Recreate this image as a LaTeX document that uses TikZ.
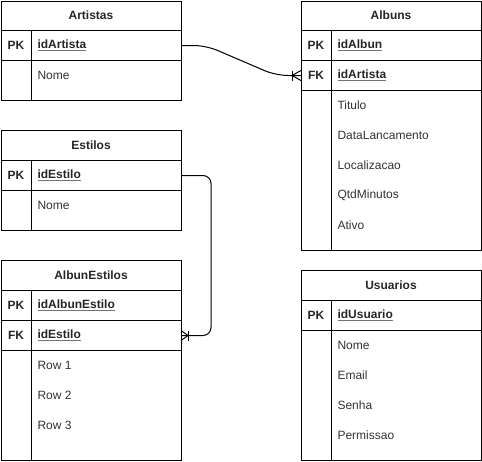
\documentclass[tikz,border=0pt]{standalone}
\usepackage{fontspec}
\setmainfont{Liberation Sans}
\usetikzlibrary{calc}
% key field names: dark text with a light grey underline
\newcommand{\keyname}[1]{{\color{black!55}\underline{\color{black!85}#1}}}
\begin{document}
\begin{tikzpicture}[x=1pt,y=-1pt,line width=1pt,
  tbl/.style={draw,minimum width=180pt,anchor=north west,inner sep=0pt,outer sep=0pt},
  hdr/.style={inner sep=0pt,text=black!85,font=\bfseries\fontsize{12}{14}\selectfont},
  keycell/.style={inner sep=0pt,text=black!85,font=\bfseries\fontsize{12}{14}\selectfont},
  fld/.style={anchor=west,inner sep=0pt,text=black!80,font=\fontsize{12}{14}\selectfont},
  keyfld/.style={anchor=west,inner sep=0pt,font=\bfseries\fontsize{12}{14}\selectfont},
  rel/.style={draw,line width=1pt,rounded corners=12pt}
]
\useasboundingbox (0,0) rectangle (482,461);

% ---------- Artistas ----------
\node[tbl,minimum height=99pt] (artistas) at (1,1) {};
\draw (1,30) -- (181,30) (1,60) -- (181,60) (31,30) -- (31,100);
\node[hdr] (artistas-h) at (91,15.5) {Artistas};
\node[keycell] (ar-pk) at (16,45.5) {PK};
\node[keyfld] (ar-id) at (37,45.5) {\keyname{idArtista}};
\node[fld] (ar-nome) at (37,75.5) {Nome};

% ---------- Estilos ----------
\node[tbl,minimum height=100pt] (estilos) at (1,130) {};
\draw (1,160) -- (181,160) (1,190) -- (181,190) (31,160) -- (31,230);
\node[hdr] (estilos-h) at (91,145.5) {Estilos};
\node[keycell] (es-pk) at (16,175.5) {PK};
\node[keyfld] (es-id) at (37,175.5) {\keyname{idEstilo}};
\node[fld] (es-nome) at (37,205.5) {Nome};

% ---------- AlbunEstilos ----------
\node[tbl,minimum height=200pt] (albunestilos) at (1,260) {};
\draw (1,290) -- (181,290) (1,320) -- (181,320) (1,350) -- (181,350) (31,290) -- (31,460);
\node[hdr] (ae-h) at (91,275.5) {AlbunEstilos};
\node[keycell] (ae-pk) at (16,305.5) {PK};
\node[keyfld] (ae-id) at (37,305.5) {\keyname{idAlbunEstilo}};
\node[keycell] (ae-fk) at (16,335.5) {FK};
\node[keyfld] (ae-est) at (37,335.5) {\keyname{idEstilo}};
\node[fld] (ae-r1) at (37,365.5) {Row 1};
\node[fld] (ae-r2) at (37,395.5) {Row 2};
\node[fld] (ae-r3) at (37,425.5) {Row 3};

% ---------- Albuns ----------
\node[tbl,minimum height=249pt] (albuns) at (301,1) {};
\draw (301,30) -- (481,30) (301,60) -- (481,60) (301,90) -- (481,90) (331,30) -- (331,250);
\node[hdr] (albuns-h) at (391,15.5) {Albuns};
\node[keycell] (al-pk) at (316,45.5) {PK};
\node[keyfld] (al-id) at (337,45.5) {\keyname{idAlbun}};
\node[keycell] (al-fk) at (316,75.5) {FK};
\node[keyfld] (al-art) at (337,75.5) {\keyname{idArtista}};
\node[fld] (al-tit) at (337,105.5) {Titulo};
\node[fld] (al-data) at (337,135.5) {DataLancamento};
\node[fld] (al-loc) at (337,165.5) {Localizacao};
\node[fld] (al-qtd) at (337,195.5) {QtdMinutos};
\node[fld] (al-ativo) at (337,225.5) {Ativo};

% ---------- Usuarios ----------
\node[tbl,minimum height=190pt] (usuarios) at (301,270) {};
\draw (301,300) -- (481,300) (301,330) -- (481,330) (331,300) -- (331,460);
\node[hdr] (us-h) at (391,285.5) {Usuarios};
\node[keycell] (us-pk) at (316,315.5) {PK};
\node[keyfld] (us-id) at (337,315.5) {\keyname{idUsuario}};
\node[fld] (us-nome) at (337,345.5) {Nome};
\node[fld] (us-email) at (337,375.5) {Email};
\node[fld] (us-senha) at (337,405.5) {Senha};
\node[fld] (us-perm) at (337,435.5) {Permissao};

% ---------- relationships ----------
% Artistas.idArtista -> Albuns.idArtista (one to many)
\coordinate (r1s) at (artistas.east |- ar-id);
\coordinate (r1e) at (albuns.west |- al-art);
\draw[rel] (r1s) -- ++(25,0) -- ($(r1e)+(-25,0)$) -- (r1e);
\draw ($(r1e)+(-9,-5)$) -- ($(r1e)+(-9,5)$);
\draw ($(r1e)+(-9,0)$) -- ($(r1e)+(0,-5)$) ($(r1e)+(-9,0)$) -- ($(r1e)+(0,5)$);

% Estilos.idEstilo -> AlbunEstilos.idEstilo (one to many)
\coordinate (r2s) at (estilos.east |- es-id);
\coordinate (r2e) at (albunestilos.east |- ae-est);
\draw[rel,rounded corners=8pt] (r2s) -- ++(30,0) |- (r2e);
\draw ($(r2e)+(7,-5)$) -- ($(r2e)+(7,5)$);
\draw ($(r2e)+(7,0)$) -- ($(r2e)+(0,-5)$) ($(r2e)+(7,0)$) -- ($(r2e)+(0,5)$);
\end{tikzpicture}
\end{document}
